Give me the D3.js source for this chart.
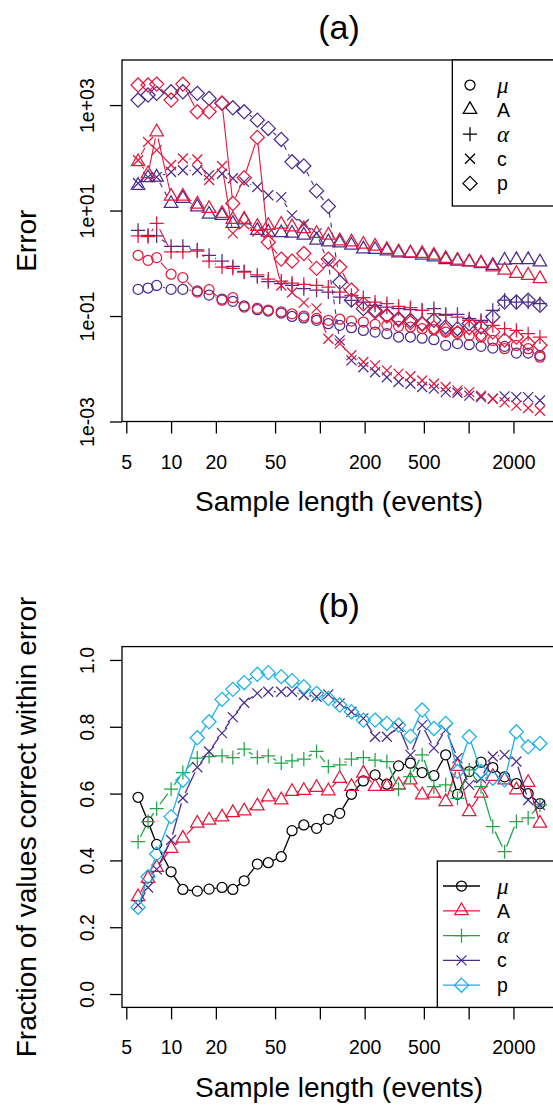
<!DOCTYPE html>
<html><head><meta charset="utf-8">
<script src="https://cdn.jsdelivr.net/npm/d3@7"></script>
<style>body{margin:0;background:#fff;} svg{display:block;font-family:"Liberation Sans",Arial,sans-serif;}</style>
</head><body>
<svg id="chart" width="553" height="1110"></svg>
<script>
// ---------- data ----------
const sampleLength = [6,7,8,10,12,15,18,22,26,31,38,45,55,65,78,95,114,136,163,196,235,282,338,406,487,584,701,841,1009,1211,1453,1744,2093,2511,3013];

// panel (a): error, red and purple variants for each parameter
const errMuRed     = [1.42,1.14,1.28,0.62,0.535,0.285,0.317,0.20,0.223,0.148,0.14,0.13,0.12,0.11,0.10,0.09,0.083,0.087,0.080,0.077,0.0695,0.0665,0.0637,0.0619,0.0575,0.055,0.0497,0.0497,0.043,0.040,0.0345,0.024,0.0277,0.024,0.0166];
const errMuPurple  = [0.32,0.34,0.38,0.32,0.32,0.30,0.25,0.21,0.19,0.155,0.132,0.124,0.114,0.098,0.092,0.083,0.0716,0.0665,0.060,0.0534,0.0496,0.0463,0.040,0.040,0.038,0.0356,0.0278,0.030,0.0286,0.0266,0.0247,0.0266,0.0198,0.0198,0.0179];
const errARed      = [84,50,310,18.6,18.6,13.2,10.9,8.8,6.8,6.8,5.0,5.2,5.5,4.9,4.5,3.66,3.41,2.66,2.54,2.30,2.10,1.82,1.64,1.57,1.53,1.42,1.23,1.14,1.06,1.01,0.85,0.74,0.64,0.59,0.51];
const errAPurple   = [30,42,43,13.6,17,11.7,8.5,8.1,5.7,6.6,4.2,3.9,3.8,3.7,3.4,2.73,2.54,2.44,2.2,1.87,1.82,1.71,1.57,1.53,1.42,1.32,1.17,1.1,1.06,0.98,0.91,1.14,1.17,1.17,1.06];
const errAlphaRed  = [3.3,3.2,5.7,1.65,1.65,1.7,1.1,0.85,0.8,0.68,0.6,0.5,0.46,0.42,0.40,0.38,0.355,0.285,0.247,0.223,0.184,0.172,0.153,0.144,0.128,0.111,0.103,0.0957,0.083,0.0769,0.0665,0.0575,0.0534,0.0462,0.040];
const errAlphaPurple=[4.2,3.4,3.3,2.1,2.1,1.8,1.42,1.1,0.87,0.70,0.56,0.45,0.41,0.38,0.33,0.31,0.285,0.229,0.199,0.184,0.16,0.148,0.138,0.132,0.128,0.138,0.108,0.108,0.089,0.083,0.128,0.20,0.184,0.184,0.172];
const errCRed      = [90,200,140,73,97,93,38,70,3.7,5.5,4.0,3.7,0.38,0.28,0.18,0.14,0.037,0.03,0.018,0.0134,0.0116,0.0093,0.0081,0.0072,0.006,0.0052,0.0045,0.0039,0.0036,0.0031,0.0027,0.0023,0.002,0.0018,0.0016];
const errCPurple   = [33,43,43,54,58,58,47,50,41,35,28,19.5,18,8.1,5.5,3.7,1.0,0.0345,0.0144,0.0107,0.0086,0.0069,0.0056,0.0052,0.0045,0.0042,0.0036,0.0035,0.0031,0.0029,0.0027,0.003,0.0029,0.0029,0.0025];
const errPRed      = [2400,2400,2500,1245,2500,746,746,1100,13.6,42,244,2.5,1.2,1.1,1.53,0.8,1.2,0.85,0.31,0.17,0.12,0.1,0.085,0.075,0.07,0.06,0.055,0.048,0.06,0.045,0.05,0.035,0.04,0.03,0.028];
const errPPurple   = [1245,1550,1670,1790,1790,1670,1340,1077,890,746,518,361,223,84,70,23.6,12,0.44,0.2,0.138,0.128,0.103,0.089,0.083,0.072,0.083,0.062,0.0575,0.072,0.062,0.096,0.184,0.184,0.199,0.16];

// panel (b): fraction of values correct within error
const fracMu    = [0.589,0.516,0.448,0.366,0.313,0.308,0.314,0.319,0.313,0.339,0.389,0.393,0.411,0.489,0.506,0.496,0.523,0.541,0.598,0.638,0.656,0.628,0.683,0.691,0.663,0.654,0.716,0.598,0.666,0.694,0.678,0.65,0.63,0.60,0.57];
const fracA     = [0.291,0.346,0.379,0.436,0.466,0.511,0.52,0.53,0.543,0.548,0.563,0.59,0.581,0.606,0.609,0.618,0.608,0.645,0.621,0.661,0.621,0.621,0.626,0.641,0.596,0.601,0.576,0.681,0.546,0.601,0.651,0.641,0.611,0.633,0.511];
const fracAlpha = [0.456,0.516,0.555,0.613,0.663,0.706,0.711,0.713,0.708,0.733,0.708,0.713,0.691,0.698,0.703,0.726,0.681,0.686,0.703,0.708,0.70,0.696,0.613,0.651,0.716,0.621,0.626,0.586,0.671,0.621,0.501,0.426,0.516,0.527,0.566];
const fracC     = [0.266,0.319,0.373,0.461,0.587,0.679,0.726,0.781,0.829,0.872,0.900,0.905,0.905,0.905,0.895,0.89,0.897,0.87,0.845,0.825,0.77,0.77,0.80,0.716,0.805,0.736,0.79,0.706,0.626,0.646,0.711,0.716,0.696,0.581,0.566];
const fracP     = [0.26,0.351,0.419,0.531,0.64,0.767,0.815,0.882,0.912,0.932,0.957,0.962,0.95,0.938,0.92,0.90,0.885,0.865,0.845,0.82,0.82,0.81,0.805,0.772,0.85,0.795,0.81,0.666,0.77,0.666,0.646,0.641,0.785,0.74,0.75];

const paramLabels = ["\u03bc","A","\u03b1","c","p"];
const paramShapes = ["circle","triangle","plus","cross","diamond"];
const xTickValues = [5,10,20,50,100,200,500,1000,2000];
const xTickLabels = ["5","10","20","50","","200","500","","2000"];
const yTickA = [1e3,1e1,1e-1,1e-3];
const yTickALabels = ["1e+03","1e+01","1e-01","1e-03"];
const yTickB = [0,0.2,0.4,0.6,0.8,1.0];
const yTickBLabels = ["0.0","0.2","0.4","0.6","0.8","1.0"];

// ---------- setup ----------
const RED = "#E4183C", PURPLE = "#4B2C8E", GREEN = "#1FA64A", SKY = "#19B2E8", BLACK = "#000000";
const svg = d3.select("#chart");
svg.append("rect").attr("width",553).attr("height",1110).attr("fill","#fff");

const plotL = 122, plotR = 556;
const lx0 = Math.log10(d3.min(sampleLength)), lx1 = Math.log10(d3.max(sampleLength));
const ext = 0.04*(lx1-lx0);
const x = d3.scaleLog().domain([10**(lx0-ext), 10**(lx1+ext)]).range([plotL, plotR]);

const A = {top:60, bottom:421.5};
const yA = d3.scaleLog().domain([1e-3, 10**3.855]).range([A.bottom, A.top]);
const B = {top:646.6, bottom:1007.4};
const yB = d3.scaleLinear().domain([-0.04, 1.04]).range([B.bottom, B.top]);

function symbol(g, shape, cx, cy, color){
  const sw = 1.25;
  if(shape==="circle"){
    g.append("circle").attr("cx",cx).attr("cy",cy).attr("r",5).attr("fill","none").attr("stroke",color).attr("stroke-width",sw);
  } else if(shape==="triangle"){
    const p = [[cx,cy-7.78],[cx+6.73,cy+3.89],[cx-6.73,cy+3.89]];
    g.append("polygon").attr("points",p.map(d=>d.join(",")).join(" ")).attr("fill","none").attr("stroke",color).attr("stroke-width",sw);
  } else if(shape==="plus"){
    g.append("path").attr("d",`M${cx-7.07},${cy}H${cx+7.07}M${cx},${cy-7.07}V${cy+7.07}`).attr("stroke",color).attr("stroke-width",sw).attr("fill","none");
  } else if(shape==="cross"){
    g.append("path").attr("d",`M${cx-5},${cy-5}L${cx+5},${cy+5}M${cx-5},${cy+5}L${cx+5},${cy-5}`).attr("stroke",color).attr("stroke-width",sw).attr("fill","none");
  } else if(shape==="diamond"){
    const p = [[cx,cy-7.07],[cx+7.07,cy],[cx,cy+7.07],[cx-7.07,cy]];
    g.append("polygon").attr("points",p.map(d=>d.join(",")).join(" ")).attr("fill","none").attr("stroke",color).attr("stroke-width",sw);
  }
}

// R-style type="b": line segments with gaps around each point
function drawSeries(g, values, yScale, color, shape, lw, gap, dash){
  const pts = sampleLength.map((s,i)=>[x(s), yScale(values[i])]);
  for(let i=1;i<pts.length;i++){
    const [x1,y1]=pts[i-1],[x2,y2]=pts[i];
    const dx=x2-x1, dy=y2-y1, d=Math.hypot(dx,dy);
    if(d>2*gap){
      const ux=dx/d, uy=dy/d;
      g.append("line").attr("x1",x1+ux*gap).attr("y1",y1+uy*gap).attr("x2",x2-ux*gap).attr("y2",y2-uy*gap)
        .attr("stroke",color).attr("stroke-width",lw).attr("stroke-dasharray",dash||null);
    }
  }
  pts.forEach(p=>symbol(g, shape, p[0], p[1], color));
}

function xAxis(bottom){
  const ax = svg.append("g").attr("transform",`translate(0,${bottom})`)
    .call(d3.axisBottom(x).tickValues(xTickValues).tickFormat((d,i)=>xTickLabels[i]).tickSize(12).tickSizeOuter(0));
  ax.select(".domain").remove();
  ax.selectAll("line").attr("stroke","#000").attr("stroke-width",1.3);
  ax.selectAll("text").attr("y",47).attr("dy",0).attr("font-size",19.5).attr("fill","#000")
    .attr("font-family","Liberation Sans, Arial, sans-serif");
}
function yAxis(scale, vals, labels){
  const ax = svg.append("g").attr("transform",`translate(${plotL},0)`)
    .call(d3.axisLeft(scale).tickValues(vals).tickFormat((d,i)=>labels[i]).tickSize(12).tickSizeOuter(0));
  ax.select(".domain").remove();
  ax.selectAll("line").attr("stroke","#000").attr("stroke-width",1.3);
  ax.selectAll("text").each(function(){
    d3.select(this).attr("x",0).attr("dy",0).attr("text-anchor","middle").attr("font-size",19.5).attr("fill","#000")
     .attr("font-family","Liberation Sans, Arial, sans-serif")
     .attr("transform","translate(-28,0) rotate(-90)");
  });
}
function box(top,bottom){
  svg.append("rect").attr("x",plotL).attr("y",top).attr("width",plotR-plotL).attr("height",bottom-top)
    .attr("fill","none").attr("stroke","#000").attr("stroke-width",1.3);
}
function titles(title, titleY, ylab, top, bottom, xlabY){
  svg.append("text").attr("x",(plotL+plotR)/2).attr("y",titleY).attr("text-anchor","middle").attr("font-size",34).text(title);
  svg.append("text").attr("x",(plotL+plotR)/2).attr("y",xlabY).attr("text-anchor","middle").attr("font-size",28).text("Sample length (events)");
  svg.append("text").attr("transform",`translate(36,${(top+bottom)/2}) rotate(-90)`).attr("text-anchor","middle").attr("font-size",28).text(ylab);
}
function legendLabel(g, lx, ly, label){
  const greek = (label==="\u03bc"||label==="\u03b1");
  g.append("text").attr("x",lx).attr("y",ly).attr("dominant-baseline","central")
    .attr("font-size", greek?23:19.5)
    .attr("font-family", greek?"Liberation Serif, serif":"Liberation Sans, Arial, sans-serif")
    .attr("font-style", greek?"italic":"normal").text(label);
}

// ---------- panel (a) ----------
const ga = svg.append("g");
const aSeries = [
  [errPPurple,"diamond",PURPLE,"5,5"],[errCPurple,"cross",PURPLE,"5,5"],[errAlphaPurple,"plus",PURPLE,"5,5"],[errAPurple,"triangle",PURPLE,"5,5"],[errMuPurple,"circle",PURPLE,"5,5"],
  [errPRed,"diamond",RED,null],[errCRed,"cross",RED,null],[errAlphaRed,"plus",RED,null],[errARed,"triangle",RED,null],[errMuRed,"circle",RED,null]
];
aSeries.forEach(s=>drawSeries(ga, s[0], yA, s[2], s[1], 1.1, 6.5, s[3]));
box(A.top, A.bottom);
xAxis(A.bottom);
yAxis(yA, yTickA, yTickALabels);
titles("(a)", 39, "Error", A.top, A.bottom, 511);

// legend (a)
const la = svg.append("g");
la.append("rect").attr("x",452.3).attr("y",A.top).attr("width",140).attr("height",146).attr("fill","#fff").attr("stroke","#000").attr("stroke-width",1.3);
paramLabels.forEach((lab,i)=>{
  const cy = 85 + i*24.6;
  symbol(la, paramShapes[i], 470, cy, "#000");
  legendLabel(la, 497, cy, lab);
});

// ---------- panel (b) ----------
const gb = svg.append("g");
const bSeries = [[fracMu,BLACK],[fracA,RED],[fracAlpha,GREEN],[fracC,PURPLE],[fracP,SKY]];
bSeries.forEach((s,i)=>drawSeries(gb, s[0], yB, s[1], paramShapes[i], 1.3, 5.5, null));
box(B.top, B.bottom);
xAxis(B.bottom);
yAxis(yB, yTickB, yTickBLabels);
titles("(b)", 617, "Fraction of values correct within error", B.top, B.bottom, 1097);

// legend (b)
const lb = svg.append("g");
lb.append("rect").attr("x",437.3).attr("y",861).attr("width",150).attr("height",B.bottom-861).attr("fill","#fff").attr("stroke","#000").attr("stroke-width",1.3);
paramLabels.forEach((lab,i)=>{
  const cy = 886 + i*24.8;
  lb.append("line").attr("x1",443).attr("x2",480).attr("y1",cy).attr("y2",cy).attr("stroke",bSeries[i][1]).attr("stroke-width",1.3);
  symbol(lb, paramShapes[i], 461.5, cy, bSeries[i][1]);
  legendLabel(lb, 497, cy, lab);
});
</script>
</body></html>
